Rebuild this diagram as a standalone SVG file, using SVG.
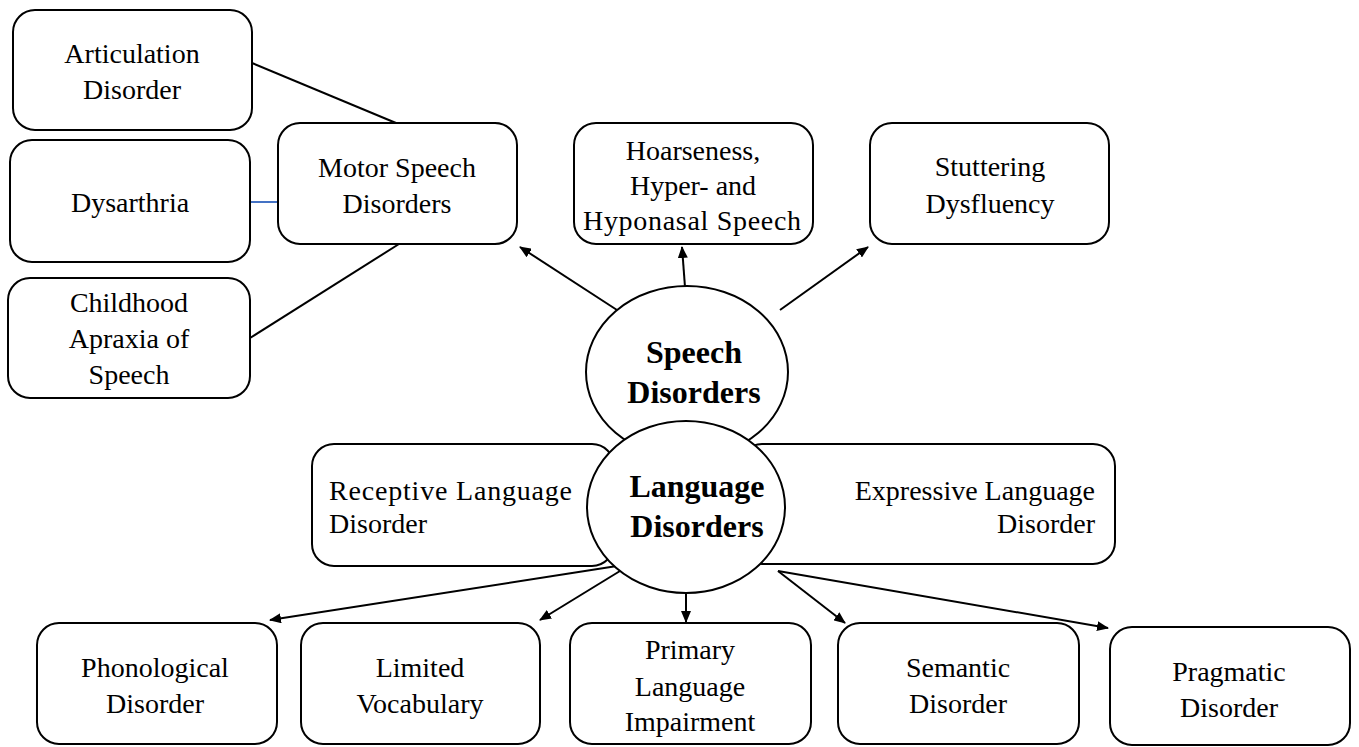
<svg xmlns="http://www.w3.org/2000/svg" width="1359" height="747" viewBox="0 0 1359 747">
<defs>
<marker id="arr" markerWidth="12" markerHeight="10" refX="11" refY="5" orient="auto" markerUnits="userSpaceOnUse">
<path d="M0,0 L12,5 L0,10 Z" fill="#000"/>
</marker>
<style>
.box{fill:#fff;stroke:#000;stroke-width:2}
.ell{fill:#fff;stroke:#000;stroke-width:2}
.t{font-family:"Liberation Serif","Times New Roman",serif;font-size:28px;fill:#000;text-anchor:middle}
.tb{font-family:"Liberation Serif","Times New Roman",serif;font-size:32px;font-weight:bold;fill:#000;text-anchor:middle}
.tl{font-family:"Liberation Serif","Times New Roman",serif;font-size:28px;fill:#000}
.c{stroke:#000;stroke-width:2;fill:none}
.a{stroke:#000;stroke-width:2;fill:none;marker-end:url(#arr)}
</style>
</defs>
<rect width="1359" height="747" fill="#fff"/>
<g id="connectors">
<line class="c" x1="252" y1="63" x2="396" y2="123"/>
<line x1="250" y1="202" x2="278" y2="202" stroke="#4472C4" stroke-width="2"/>
<line class="c" x1="250" y1="338" x2="399" y2="244"/>
<line class="a" x1="617" y1="310" x2="520" y2="247"/>
<line class="a" x1="685" y1="287" x2="682" y2="247"/>
<line class="a" x1="780" y1="310" x2="868" y2="247"/>
<line class="a" x1="617" y1="566" x2="270" y2="620"/>
<line class="a" x1="620" y1="571" x2="540" y2="620"/>
<line class="a" x1="686" y1="592" x2="686" y2="622"/>
<line class="a" x1="778" y1="571" x2="845" y2="623"/>
<line class="a" x1="778" y1="571" x2="1108" y2="628"/>
</g>
<g id="articulation"><rect class="box" x="13" y="10" width="239" height="120" rx="22"/><text class="t" x="132" y="63">Articulation</text><text class="t" x="132" y="99">Disorder</text></g>
<g id="dysarthria"><rect class="box" x="10" y="140" width="240" height="122" rx="22"/><text class="t" x="130" y="212">Dysarthria</text></g>
<g id="apraxia"><rect class="box" x="8" y="278" width="242" height="120" rx="22"/><text class="t" x="129" y="312">Childhood</text><text class="t" x="129" y="348">Apraxia of</text><text class="t" x="129" y="384">Speech</text></g>
<g id="motor"><rect class="box" x="278" y="123" width="239" height="121" rx="22"/><text class="t" x="397" y="177">Motor Speech</text><text class="t" x="397" y="213">Disorders</text></g>
<g id="hoarseness"><rect class="box" x="574" y="123" width="239" height="121" rx="22"/><text class="t" x="693" y="160">Hoarseness,</text><text class="t" x="693" y="195">Hyper- and</text><text class="t" x="692" y="230" textLength="218" lengthAdjust="spacing">Hyponasal Speech</text></g>
<g id="stuttering"><rect class="box" x="870" y="123" width="239" height="121" rx="22"/><text class="t" x="990" y="176">Stuttering</text><text class="t" x="990" y="213">Dysfluency</text></g>
<g id="speech"><ellipse class="ell" cx="687" cy="372" rx="101" ry="86"/><text class="tb" x="694" y="363">Speech</text><text class="tb" x="694" y="403">Disorders</text></g>
<g id="receptive"><rect class="box" x="312" y="444" width="302" height="122" rx="22"/><text class="tl" x="329" y="500" textLength="243" lengthAdjust="spacing">Receptive Language</text><text class="tl" x="329" y="533">Disorder</text></g>
<g id="expressive"><rect class="box" x="740" y="444" width="375" height="120" rx="22"/><text class="tl" x="1095" y="500" text-anchor="end">Expressive Language</text><text class="tl" x="1095" y="533" text-anchor="end">Disorder</text></g>
<g id="language"><ellipse class="ell" cx="686" cy="507" rx="99" ry="86"/><text class="tb" x="697" y="497">Language</text><text class="tb" x="697" y="537">Disorders</text></g>
<g id="phonological"><rect class="box" x="37" y="623" width="240" height="121" rx="22"/><text class="t" x="155" y="677">Phonological</text><text class="t" x="155" y="713">Disorder</text></g>
<g id="limited"><rect class="box" x="301" y="623" width="239" height="121" rx="22"/><text class="t" x="420" y="677">Limited</text><text class="t" x="420" y="713">Vocabulary</text></g>
<g id="primary"><rect class="box" x="570" y="623" width="241" height="121" rx="22"/><text class="t" x="690" y="659">Primary</text><text class="t" x="690" y="696">Language</text><text class="t" x="690" y="731">Impairment</text></g>
<g id="semantic"><rect class="box" x="838" y="623" width="241" height="121" rx="22"/><text class="t" x="958" y="677">Semantic</text><text class="t" x="958" y="713">Disorder</text></g>
<g id="pragmatic"><rect class="box" x="1110" y="627" width="240" height="118" rx="22"/><text class="t" x="1229" y="681">Pragmatic</text><text class="t" x="1229" y="717">Disorder</text></g>
</svg>
